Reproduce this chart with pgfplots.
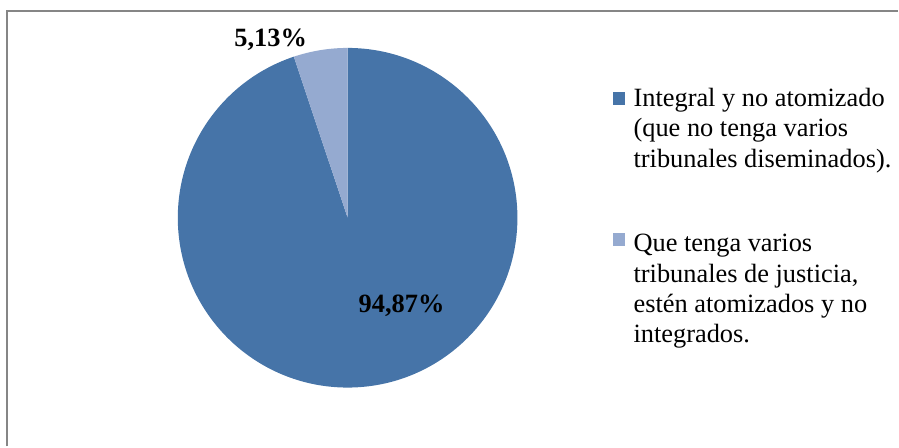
\documentclass[border=0pt]{standalone}
\usepackage{fontspec}
\setmainfont{Liberation Serif}
\usepackage{pgfplots}
\usepackage{pgfplotstable}
\pgfplotsset{compat=1.18}

\definecolor{azul}{RGB}{70,116,168}
\definecolor{celeste}{RGB}{149,170,208}
\definecolor{marco}{RGB}{134,134,134}

% porcentajes de cada opcion
\pgfplotstableread{
serie valor
1 94.87
2 5.13
}\datos

\begin{document}
\begin{tikzpicture}
\pgfplotstablegetelem{0}{valor}\of\datos
\pgfmathsetmacro\angA{90-3.6*\pgfplotsretval}
\pgfplotstablegetelem{1}{valor}\of\datos
\pgfmathsetmacro\angB{\angA-3.6*\pgfplotsretval}
\begin{axis}[
  hide axis, scale only axis,
  width=674.25pt, height=335.25pt,
  xmin=0, xmax=899, ymin=0, ymax=447,
  clip=false
]
\path (axis cs:0,0) rectangle (axis cs:899,447);
\draw[marco, line width=1.5pt] (axis cs:7,0) -- (axis cs:7,436) -- (axis cs:899,436);

% sectores
\fill[azul] (axis cs:348,229) -- ++(90:127.5pt)
  arc[start angle=90, end angle=\angA, radius=127.5pt] -- cycle;
\fill[celeste] (axis cs:348,229) -- ++(\angA:127.5pt)
  arc[start angle=\angA, end angle=\angB, radius=127.5pt] -- cycle;

% etiquetas
\node[anchor=base, font=\fontsize{19.8}{24}\selectfont\bfseries] at (axis cs:271,400) {5,13\%};
\node[anchor=base, font=\fontsize{19.8}{24}\selectfont\bfseries] at (axis cs:402,134) {94,87\%};

% leyenda
\fill[azul] (axis cs:614,342) rectangle (axis cs:626,355);
\fill[celeste] (axis cs:614,201) rectangle (axis cs:626,214);
\begin{scope}[every node/.style={anchor=base west, inner sep=0pt, font=\fontsize{19.8}{24}\selectfont}]
\node at (axis cs:634,340) {Integral y no atomizado};
\node at (axis cs:634,310) {(que no tenga varios};
\node at (axis cs:634,279) {tribunales diseminados).};
\node at (axis cs:634,195) {Que tenga varios};
\node at (axis cs:634,164) {tribunales de justicia,};
\node at (axis cs:634,134) {estén atomizados y no};
\node at (axis cs:634,104) {integrados.};
\end{scope}
\end{axis}
\end{tikzpicture}
\end{document}
